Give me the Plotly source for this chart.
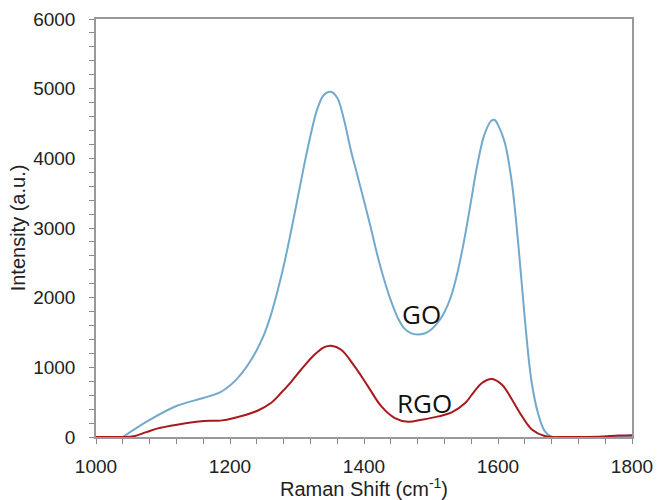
import plotly.graph_objects as go

go_x = [1040, 1080, 1120, 1160, 1185, 1200, 1210, 1220, 1230, 1240, 1250, 1260, 1270, 1280, 1290,
        1300, 1310, 1320, 1330, 1340, 1350, 1360, 1370, 1380, 1390, 1400, 1410, 1420, 1430, 1440,
        1450, 1460, 1470, 1480, 1490, 1500, 1510, 1520, 1530, 1540, 1550, 1560, 1570, 1580, 1590,
        1595, 1600, 1610, 1620, 1630, 1640, 1650, 1660, 1670, 1680, 1700, 1750, 1800]
go_y = [0, 245, 445, 560, 640, 740, 830, 945, 1085, 1250, 1450, 1720, 2060, 2450, 2900,
        3380, 3870, 4320, 4700, 4910, 4955, 4870, 4560, 4130, 3760, 3390, 3010, 2610, 2260, 1960,
        1720, 1560, 1490, 1470, 1485, 1540, 1640, 1790, 2020, 2380, 2850, 3400, 3950, 4350, 4540,
        4550, 4480, 4230, 3700, 2800, 1700, 800, 330, 80, 5, 0, 0, 10]

rgo_x = [1000, 1040, 1056, 1075, 1091, 1121, 1161, 1186, 1206, 1241, 1261, 1276, 1291, 1306, 1326,
         1341, 1351, 1366, 1386, 1406, 1426, 1446, 1466, 1486, 1511, 1531, 1551, 1561, 1576, 1591,
         1606, 1621, 1636, 1651, 1671, 1700, 1750, 1780, 1800]
rgo_y = [0, 0, 10, 70, 120, 176, 229, 235, 272, 377, 487, 631, 789, 965, 1180,
         1290, 1310, 1252, 1013, 726, 439, 272, 219, 248, 296, 353, 487, 607, 775, 832,
         750, 535, 296, 105, 10, 0, 5, 20, 25]

labels = ["GO", "RGO"]
label_x = [1486, 1490]
label_y = [1768, 492]

fig = go.Figure()
fig.add_trace(go.Scatter(x=go_x, y=go_y, mode="lines", name="GO",
                         line=dict(color="#72A9CC", width=2, shape="spline", smoothing=1.0)))
fig.add_trace(go.Scatter(x=rgo_x, y=rgo_y, mode="lines", name="RGO",
                         line=dict(color="#A8191E", width=2, shape="spline", smoothing=1.0)))

for t, lx, ly in zip(labels, label_x, label_y):
    fig.add_annotation(x=lx, y=ly, text=t, showarrow=False,
                       font=dict(family="Open Sans", size=26, color="#111111"))

axis_common = dict(showgrid=False, zeroline=False, showline=True, mirror=True,
                   linecolor="#999999", linewidth=1.5, ticks="outside", ticklen=5,
                   tickcolor="#888888", tickwidth=1, automargin=False,
                   tickfont=dict(family="Liberation Sans, Arial", size=19, color="#222222"))

fig.update_xaxes(range=[1000, 1800], tick0=1000, dtick=200, ticklabelstandoff=6,
                 minor=dict(dtick=40, ticks="outside", ticklen=5, tickcolor="#888888"),
                 title=dict(text="Raman Shift (cm<sup>-1</sup>)",
                            font=dict(family="Liberation Sans, Arial", size=20, color="#222222"),
                            standoff=2),
                 **axis_common)
fig.update_yaxes(range=[0, 6000], tick0=0, dtick=1000, ticklabelstandoff=10,
                 minor=dict(dtick=200, ticks="outside", ticklen=5, tickcolor="#888888"),
                 title=dict(text="Intensity (a.u.)",
                            font=dict(family="Liberation Sans, Arial", size=20, color="#222222"),
                            standoff=2),
                 **axis_common)

fig.update_layout(width=657, height=500, margin=dict(l=96, r=25, t=19, b=63),
                  plot_bgcolor="white", paper_bgcolor="white", showlegend=False)

fig.write_html("out.html", config={"displayModeBar": False},
               post_script="document.body.style.margin='0';")
